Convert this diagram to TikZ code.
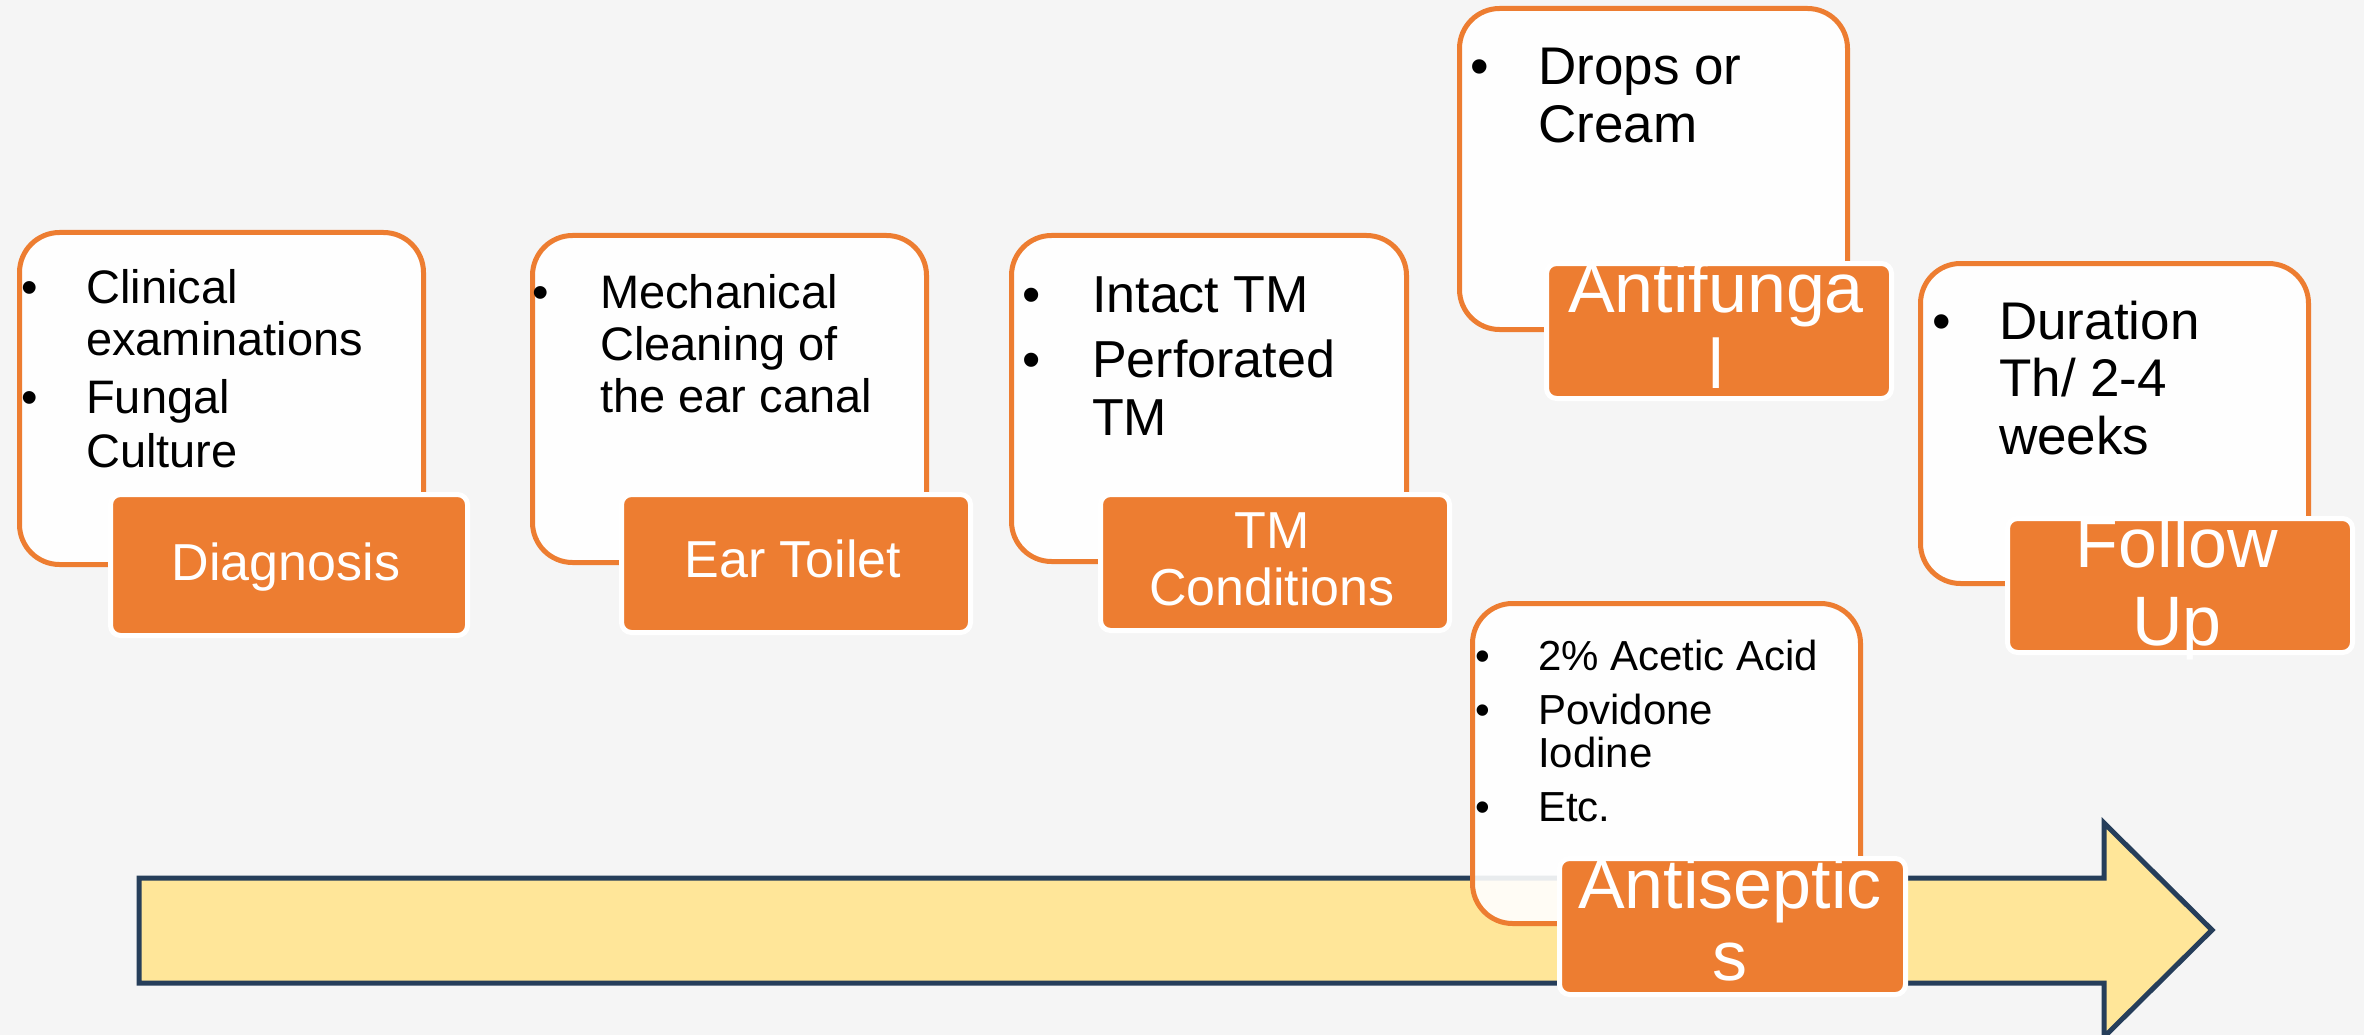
\documentclass[tikz,border=0pt]{standalone}
\usepackage{fontspec}
\setmainfont{Liberation Sans}
\definecolor{orng}{HTML}{ED7D31}
\definecolor{bgc}{HTML}{F5F5F5}
\definecolor{arrfill}{HTML}{FFE699}
\definecolor{arrline}{HTML}{263E5A}
\begin{document}
\begin{tikzpicture}[x=1pt,y=-1pt,
  wbox/.style={draw=orng, line width=5pt, fill=white, fill opacity=0.9, rounded corners=40pt, inner sep=0pt, anchor=north west},
  obox/.style={draw=white, line width=5pt, fill=orng, rounded corners=10pt, inner sep=0pt, anchor=north west},
  ta/.style={anchor=base west, inner sep=0pt, font=\fontsize{47}{56}\selectfont},
  tb/.style={anchor=base west, inner sep=0pt, font=\fontsize{52}{60}\selectfont},
  tc/.style={anchor=base west, inner sep=0pt, font=\fontsize{53}{60}\selectfont},
  td/.style={anchor=base west, inner sep=0pt, font=\fontsize{42}{50}\selectfont},
  la/.style={anchor=base, inner sep=0pt, text=white, font=\fontsize{52}{60}\selectfont},
  lb/.style={anchor=base, inner sep=0pt, text=white, font=\fontsize{70}{78}\selectfont}]
% background / bounding box
\fill[bgc] (0,0) rectangle (2364,1035);
\useasboundingbox (0,0) rectangle (2364,1035);
% timeline arrow
\draw[arrline, fill=arrfill, line width=5pt, line join=miter]
  (139,878) -- (2104,878) -- (2104,823) -- (2212,930) -- (2104,1037) -- (2104,983) -- (139,983) -- cycle;
% white content boxes
\node[wbox, minimum width=404pt, minimum height=332pt] (wdiag) at (17,230) {};
\node[wbox, minimum width=394pt, minimum height=327pt] (wear) at (530,233) {};
\node[wbox, minimum width=395pt, minimum height=326pt] (wtm) at (1009,233) {};
\node[wbox, minimum width=388pt, minimum height=321pt] (wanf) at (1457,6) {};
\node[wbox, minimum width=388pt, minimum height=320pt] (wfol) at (1918,261) {};
\node[wbox, minimum width=388pt, minimum height=320pt] (wants) at (1470,601) {};
% orange label boxes
\node[obox, minimum width=357pt, minimum height=141pt] (odiag) at (108,492) {};
\node[obox, minimum width=349pt, minimum height=138pt] (oear) at (619,492) {};
\node[obox, minimum width=349pt, minimum height=136pt] (otm) at (1098,492) {};
\node[obox, minimum width=345pt, minimum height=135pt] (oanf) at (1544,261) {};
\node[obox, minimum width=345pt, minimum height=134pt] (ofol) at (2005,516) {};
\node[obox, minimum width=346pt, minimum height=136pt] (oants) at (1557,856) {};
% Diagnosis texts
\node[ta] (d1b) at (21,303) {•};
\node[ta] (d1) at (86,303) {Clinical};
\node[ta] (d2) at (86,355) {examinations};
\node[ta] (d3b) at (21,413) {•};
\node[ta] (d3) at (86,413) {Fungal};
\node[ta] (d4) at (86,467) {Culture};
% Ear toilet texts
\node[ta] (e1b) at (532,308) {•};
\node[ta] (e1) at (600,308) {Mechanical};
\node[ta] (e2) at (600,360) {Cleaning of};
\node[ta] (e3) at (600,412) {the ear canal};
% TM texts
\node[tb] (t1b) at (1022,312) {•};
\node[tb] (t1) at (1092,312) {Intact TM};
\node[tb] (t2b) at (1022,377) {•};
\node[tb] (t2) at (1092,377) {Perforated};
\node[tb] (t3) at (1092,435) {TM};
% Antifungal texts
\node[tc] (a1b) at (1470,85) {•};
\node[tc] (a1) at (1538,85) {Drops or};
\node[tc] (a2) at (1538,143) {Cream};
% Follow up texts
\node[tc] (f1b) at (1932,339) {•};
\node[tc] (f1) at (1999,339) {Duration};
\node[tc] (f2) at (1999,396) {Th/ 2-4};
\node[tc] (f3) at (1999,454) {weeks};
% Antiseptics texts
\node[td] (s1b) at (1475,670) {•};
\node[td] (s1) at (1538,670) {2\% Acetic Acid};
\node[td] (s2b) at (1475,724) {•};
\node[td] (s2) at (1538,724) {Povidone};
\node[td] (s3) at (1538,767) {Iodine};
\node[td] (s4b) at (1475,821) {•};
\node[td] (s4) at (1538,821) {Etc.};
% orange labels
\node[la] (ld) at (286,580) {Diagnosis};
\node[la] (le) at (793,577) {Ear Toilet};
\node[la] (lt1) at (1272,548) {TM};
\node[la] (lt2) at (1272,605) {Conditions};
\node[lb] (lf1) at (1716,312) {Antifunga};
\node[lb] (lf2) at (1716,388) {l};
\node[lb] (lu1) at (2177,567) {Follow};
\node[lb] (lu2) at (2177,645) {Up};
\node[lb] (ls1) at (1730,908) {Antiseptic};
\node[lb] (ls2) at (1730,980) {s};
\end{tikzpicture}
\end{document}
